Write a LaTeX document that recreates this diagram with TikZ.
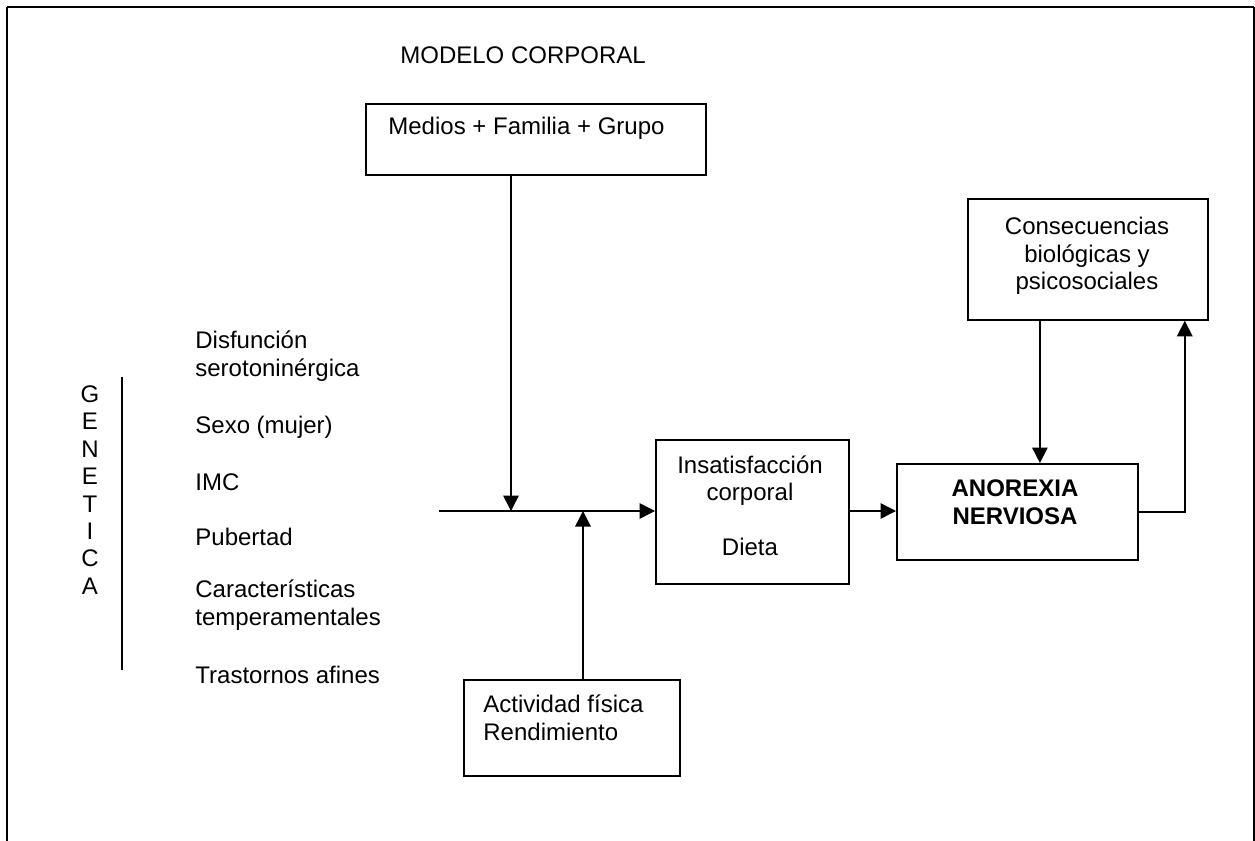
\documentclass[tikz,border=0pt]{standalone}
\usepackage{fontspec}
\setmainfont{Liberation Sans}
\usetikzlibrary{arrows.meta}

\tikzset{
  boxshape/.style={draw, line width=0.9pt, inner sep=0pt, anchor=north west},
  conn/.style={line width=0.75pt},
  arr/.style={conn, -{Triangle[length=7.75pt,width=7.75pt]}},
  txt/.style={inner sep=0pt, font=\fontsize{12}{13.75}\selectfont},
}

\begin{document}
\begin{tikzpicture}[x=0.5pt,y=0.5pt,yscale=-1]
\useasboundingbox (0,0) rectangle (1255,841);

%Shape: open frame
\draw [line width=0.75pt] (7,841) -- (7,7);
\draw [line width=0.75pt] (1254,7) -- (1254,841);
\draw [line width=1.2pt] (7,7) -- (1254,7);

% Text Node
\node [txt, anchor=west] (modelo) at (400,55) {MODELO CORPORAL};

%Shape: Rectangle
\node [boxshape, minimum width=170pt, minimum height=35.5pt] (medios) at (365,103) {};
% Text Node
\node [txt, anchor=west] (mediostxt) at (388,128) {Medios + Familia + Grupo};

%Shape: Rectangle
\node [boxshape, minimum width=120pt, minimum height=60.5pt] (conseq) at (967,198) {};
% Text Node
\node [txt, align=center] (conseqtxt) at (1087,256) {Consecuencias\\biológicas y\\psicosociales};

%Shape: Rectangle
\node [boxshape, minimum width=96.5pt, minimum height=72pt] (insat) at (655,439) {};
% Text Node
\node [txt, align=center] (insattxt) at (750,506) {Insatisfacción\\corporal\\[13.75pt]Dieta};

%Shape: Rectangle
\node [boxshape, minimum width=120.5pt, minimum height=48pt] (anorexia) at (896,463) {};
% Text Node
\node [txt, align=center, font=\fontsize{12}{14}\selectfont\bfseries] (anorexiatxt) at (1015,502) {ANOREXIA\\NERVIOSA};

%Shape: Rectangle
\node [boxshape, minimum width=108pt, minimum height=48pt] (activ) at (463,679) {};
% Text Node
\node [txt, anchor=west, align=left] (activtxt) at (483,718) {Actividad física\\Rendimiento};

% Text Node: factores
\node [txt, anchor=west, align=left] (disf) at (195,356) {Disfunción\\serotoninérgica};
\node [txt, anchor=west] (sexo) at (195,427) {Sexo (mujer)};
\node [txt, anchor=west] (imc) at (195,482) {IMC};
\node [txt, anchor=west] (pub) at (195,537) {Pubertad};
\node [txt, anchor=west, align=left] (carac) at (195,605) {Características\\temperamentales};
\node [txt, anchor=west] (trast) at (195,675) {Trastornos afines};

% Text Node: vertical label
\node [txt, align=center, font=\fontsize{12}{13.7}\selectfont] (genetica) at (90,490) {G\\E\\N\\E\\T\\I\\C\\A};
\draw [line width=0.6pt] (122,377) -- (122,670);

% Connectors
\coordinate (start) at (439,511);
\coordinate (join1) at (511,511);
\coordinate (join2) at (583,511);
\draw [arr] (start) -- (start -| insat.west);
\draw [arr] (medios.south -| join1) -- (join1);
\draw [arr] (activ.north -| join2) -- (join2);
\draw [arr] (insat.east |- start) -- (anorexia.west |- start);
\draw [arr] ([xshift=-24pt]conseq.south) -- ([xshift=-24pt]conseq.south |- anorexia.north);
\draw [arr] (anorexia.east) -| ([xshift=-12pt]conseq.south east);
\end{tikzpicture}
\end{document}
